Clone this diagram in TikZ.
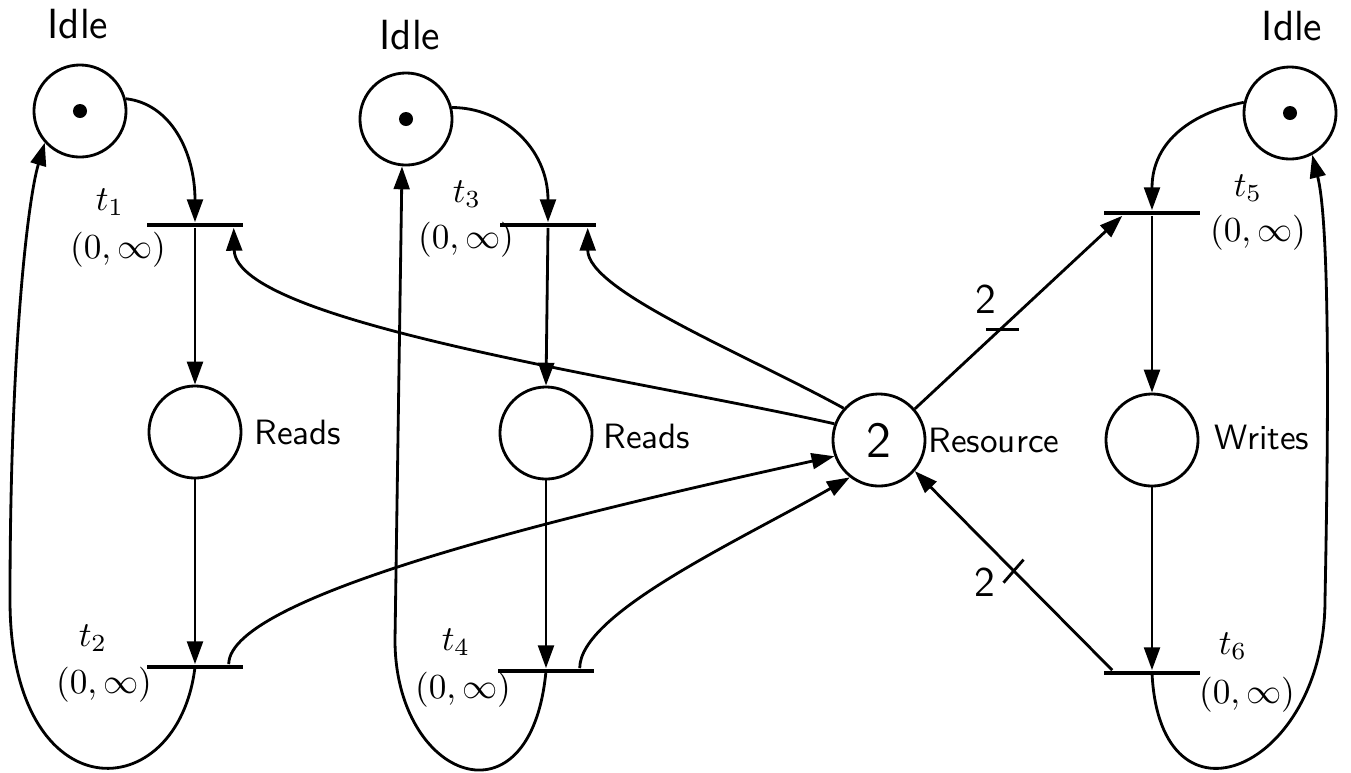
\documentclass[tikz,border=0pt]{standalone}
\usepackage{amsmath,amssymb}
\usetikzlibrary{arrows.meta}

\begin{document}
\begin{tikzpicture}[
  x=0.01cm, y=-0.01cm,
  >={Triangle[length=6.5pt,width=4.5pt]},
  place/.style={circle, draw, thick, minimum size=0.92cm, inner sep=0pt},
  token/.style={circle, fill, minimum size=0.14cm, inner sep=0pt},
  transition/.style={rectangle, fill, minimum width=0.96cm, minimum height=1.2pt, inner sep=0pt},
  flow/.style={draw, ->, thick},
  plabel/.style={font=\sffamily},
  idle/.style={font=\large\sffamily},
  tlab/.style={font=\normalsize, inner sep=1pt},
  interval/.style={font=\normalsize, inner sep=1pt}
]
\useasboundingbox (0,0) rectangle (1351,772);

% places
\node[place] (P1) at (80,111) {};
\node[token] (k1) at (P1) {};
\node[place] (P3) at (406,119) {};
\node[token] (k3) at (P3) {};
\node[place] (P5) at (1290,113) {};
\node[token] (k5) at (P5) {};
\node[place] (R1) at (195,432) {};
\node[place] (R2) at (546,433) {};
\node[place, font=\Large\sffamily] (Res) at (879,440) {2};
\node[place] (W) at (1152,440) {};

% transitions
\node[transition] (t1) at (195,225) {};
\node[transition] (t2) at (195,667) {};
\node[transition] (t3) at (548,225) {};
\node[transition] (t4) at (546,671) {};
\node[transition] (t5) at (1152,213) {};
\node[transition] (t6) at (1152,673) {};

% labels
\node[idle] (i1) at (78,24) {Idle};
\node[idle] (i3) at (410,35) {Idle};
\node[idle] (i5) at (1292,26) {Idle};
\node[plabel] (n1) at (298,432) {Reads};
\node[plabel] (n2) at (647,436) {Reads};
\node[plabel] (n3) at (994,440) {Resource};
\node[plabel] (n4) at (1262,437) {Writes};
\node[tlab] (l1) at (110,202) {$t_1$};
\node[interval] (d1) at (118,250) {$(0,\infty)$};
\node[tlab] (l2) at (93,638) {$t_2$};
\node[interval] (d2) at (104,685) {$(0,\infty)$};
\node[tlab] (l3) at (467,194) {$t_3$};
\node[interval] (d3) at (466,240) {$(0,\infty)$};
\node[tlab] (l4) at (456,642) {$t_4$};
\node[interval] (d4) at (463,690) {$(0,\infty)$};
\node[tlab] (l5) at (1248,188) {$t_5$};
\node[interval] (d5) at (1258,233) {$(0,\infty)$};
\node[tlab] (l6) at (1233,646) {$t_6$};
\node[interval] (d6) at (1247,695) {$(0,\infty)$};

\coordinate (c1) at (10,600);
\coordinate (c3) at (395,640);
\coordinate (c5) at (1325,600);

% first reader
\draw[flow] (P1.15) .. controls +(45,5) and +(0,-70) .. (t1.north);
\draw[flow] (t1.south) -- (R1.north);
\draw[flow] (R1.south) -- (t2.north);
\draw[flow] (t2.center) .. controls +(-17,142) and +(0,215) .. (c1)
  .. controls +(0,-250) and +(-17,57) .. (P1.222);
\draw[flow] (Res.160) .. controls +(-200,-45) and +(2,95) .. ([xshift=-0.1cm]t1.south east);
\draw[flow] ([xshift=-0.15cm]t2.north east) .. controls +(0,-70) and +(-250,55) .. (Res.200);

% second reader
\draw[flow] (P3.14) .. controls +(50,0) and +(0,-75) .. (t3.north);
\draw[flow] (t3.south) -- (R2.north);
\draw[flow] (R2.south) -- (t4.north);
\draw[flow] (t4.center) .. controls +(-15,160) and +(0,140) .. (c3) -- ([xshift=-0.04cm]P3.south);
\draw[flow] (Res.138) .. controls +(-100,-55) and +(0,63) .. ([xshift=-0.09cm]t3.south east);
\draw[flow] ([xshift=-0.15cm]t4.north east) .. controls +(0,-55) and +(-110,63) .. (Res.232);

% writer
\draw[flow] (P5.167) .. controls +(-50,10) and +(0,-70) .. (t5.north);
\draw[flow] (t5.south) -- (W.north);
\draw[flow] (W.south) -- (t6.north);
\draw[flow] (t6.center) .. controls +(8,167) and +(0,170) .. (c5)
  .. controls +(5,-250) and +(15,60) .. (P5.-62);
\draw[flow] (Res.41) -- coordinate[pos=0.41] (m1) ([xshift=0.19cm]t5.south west);
\draw[flow] ([xshift=0.09cm]t6.north west) -- coordinate[pos=0.5] (m2) (Res.-41);

% arc weights
\draw[thick] ([xshift=-0.14cm]m1) -- ([xshift=0.19cm]m1);
\node[font=\large\sffamily] (w1) at ([xshift=-0.14cm,yshift=0.3cm]m1) {2};
\draw[thick] ([xshift=-0.1cm,yshift=-0.12cm]m2) -- ([xshift=0.1cm,yshift=0.11cm]m2);
\node[font=\large\sffamily] (w2) at ([xshift=-0.29cm,yshift=-0.12cm]m2) {2};
\end{tikzpicture}
\end{document}
